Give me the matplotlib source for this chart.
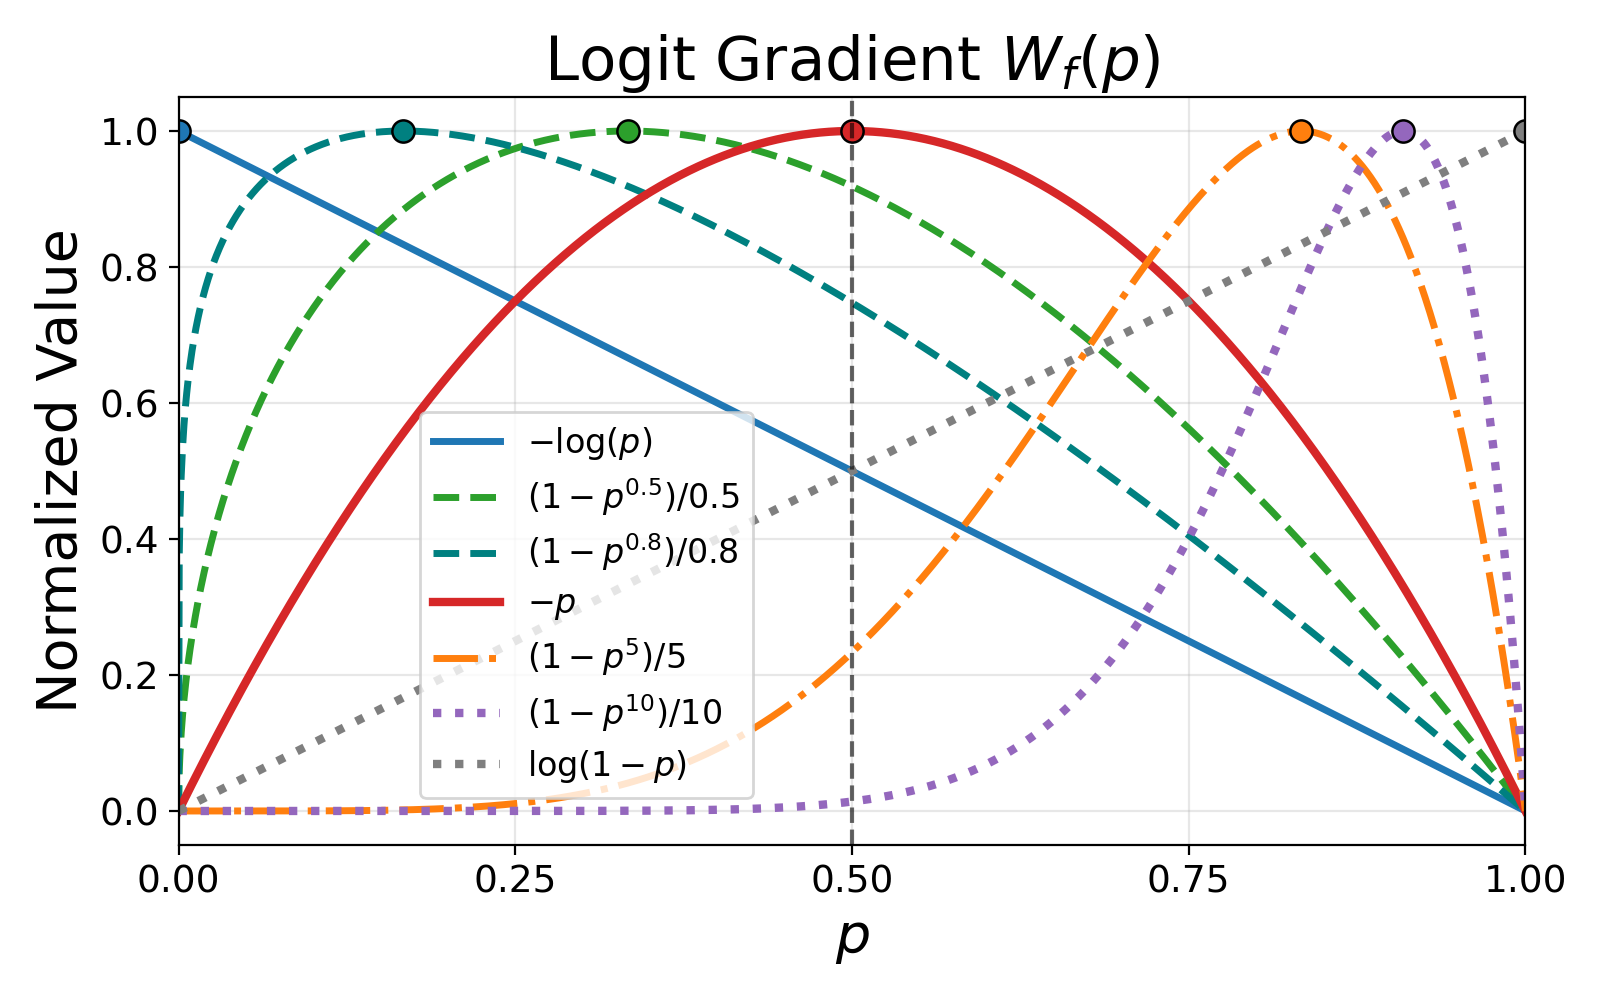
import numpy as np
import matplotlib
matplotlib.use("Agg")
import matplotlib.pyplot as plt

# Data: each curve is the logit-gradient weight W_f(p), normalized to peak 1
labels = [r"$-\log(p)$", r"$(1-p^{0.5})/0.5$", r"$(1-p^{0.8})/0.8$", r"$-p$",
          r"$(1-p^{5})/5$", r"$(1-p^{10})/10$", r"$\log(1-p)$"]
# exponent a in p^a (1-p); None = log(1-p) whose weight is p
exponents = [0.0, 0.5, 0.2, 1.0, 5.0, 10.0, None]
colors = ["#1f77b4", "#2ca02c", "teal", "#d62728", "#ff7f0e", "#9467bd", "#7f7f7f"]
styles = ["-", "--", "--", "-", "-.", ":", ":"]
widths = [2.5, 2.5, 2.5, 3.0, 2.5, 3.0, 3.0]
xticks = [0.0, 0.25, 0.5, 0.75, 1.0]
yticks = [0.0, 0.2, 0.4, 0.6, 0.8, 1.0]

p = np.linspace(0, 1, 2001)

fig = plt.figure(figsize=(8, 5), dpi=200)
ax = fig.add_axes([0.1116, 0.155, 0.8418, 0.748])

for lab, a, c, ls, lw in zip(labels, exponents, colors, styles, widths):
    if a is None:
        w = p.copy()
    else:
        w = p ** a * (1 - p)
    w = w / w.max()
    ax.plot(p, w, color=c, ls=ls, lw=lw, label=lab)
    i = np.argmax(w)
    ax.plot(p[i], w[i], 'o', color=c, markersize=8, markeredgecolor='k',
            markeredgewidth=0.9)

ax.axvline(0.5, color='k', ls='--', lw=1.5, alpha=0.6, zorder=3)
ax.set_xlim(0, 1)
ax.set_ylim(-0.05, 1.05)
ax.set_xticks(xticks)
ax.set_yticks(yticks)
ax.tick_params(labelsize=13.5)
ax.grid(True, alpha=0.3)
ax.set_xlabel(r"$p$", fontsize=20)
ax.set_ylabel("Normalized Value", fontsize=20)
ax.set_title(r"Logit Gradient $W_f(p)$", fontsize=22)
ax.legend(loc='lower left', bbox_to_anchor=(0.167, 0.04), fontsize=12,
          labelspacing=0.42)

fig.savefig("out.png", dpi=200)
